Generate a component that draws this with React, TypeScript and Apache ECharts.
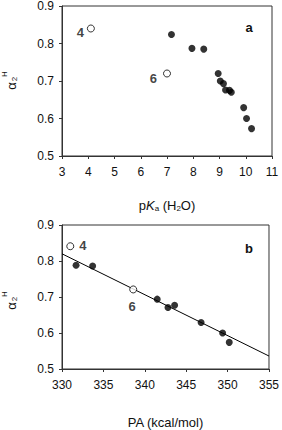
import React, { useEffect, useRef } from "react";
import * as echarts from "echarts";

// Panel a: pKa (H2O) vs alpha2H
const pkaOpen: [number, number, string][] = [
  [4.1, 0.84, "4"],
  [7.0, 0.72, "6"],
];
const pkaFilled: [number, number][] = [
  [7.17, 0.824],
  [7.95, 0.787],
  [8.4, 0.785],
  [8.95, 0.72],
  [9.03, 0.7],
  [9.15, 0.693],
  [9.23, 0.676],
  [9.38, 0.675],
  [9.45, 0.67],
  [9.92, 0.629],
  [10.03, 0.6],
  [10.22, 0.573],
];

// Panel b: PA (kcal/mol) vs alpha2H
const paOpen: [number, number, string][] = [
  [331.0, 0.841, "4"],
  [338.6, 0.721, "6"],
];
const paFilled: [number, number][] = [
  [331.7, 0.788],
  [333.7, 0.786],
  [341.5, 0.694],
  [342.8, 0.671],
  [343.6, 0.677],
  [346.8, 0.629],
  [349.4, 0.6],
  [350.2, 0.574],
];
const paFit: [number, number][] = [
  [330, 0.82],
  [355, 0.536],
];

const xRangeA = { min: 3, max: 11, interval: 1 };
const xRangeB = { min: 330, max: 355, interval: 5 };
const yRange = { min: 0.5, max: 0.9, interval: 0.1 };

const FONT = 'Arial, "Liberation Sans", sans-serif';
const TXT = "#111";
const AX = "#333";

export default function App() {
  const ref = useRef<HTMLDivElement>(null);

  useEffect(() => {
    if (!ref.current) return;
    const chart = echarts.init(ref.current, undefined, { renderer: "svg" });

    const axisCommon = {
      axisLine: { show: true, onZero: false, lineStyle: { color: AX, width: 1 } },
      axisTick: { show: true, length: 3, lineStyle: { color: AX } },
      splitLine: { show: false },
      axisLabel: { color: TXT, fontSize: 12, fontFamily: FONT },
    };

    const rich = {
      n: { fontSize: 13, color: TXT, fontFamily: FONT, lineHeight: 14 },
      i: { fontStyle: "italic" as const, fontSize: 13, color: TXT, fontFamily: FONT, lineHeight: 14 },
      s: {
        fontSize: 8,
        color: TXT,
        fontFamily: FONT,
        verticalAlign: "bottom" as const,
        lineHeight: 8,
        padding: [10, 0, 0, 0],
      },
    };

    const yTitle = (cy: number) => ({
      type: "group",
      x: 11,
      y: cy,
      rotation: Math.PI / 2,
      children: [
        {
          type: "text",
          x: 0,
          y: 0,
          style: { text: "α", fontSize: 13, fontFamily: FONT, fill: TXT, align: "center", verticalAlign: "middle" },
        },
        {
          type: "text",
          x: 7,
          y: 3,
          style: { text: "2", fontSize: 8, fontFamily: FONT, fill: TXT, align: "center", verticalAlign: "middle" },
        },
        {
          type: "text",
          x: 12,
          y: -7,
          style: { text: "H", fontSize: 8, fontFamily: FONT, fill: TXT, align: "center", verticalAlign: "middle" },
        },
      ],
    });

    const labelStyle = { show: true, color: TXT, fontSize: 13, fontWeight: "bold" as const, fontFamily: FONT };

    chart.setOption({
      animation: false,
      grid: [
        { left: 62, top: 5, width: 210, height: 151, show: true, borderColor: AX, borderWidth: 1 },
        { left: 62, top: 225, width: 210, height: 150, show: true, borderColor: AX, borderWidth: 1 },
      ],
      xAxis: [
        {
          ...axisCommon,
          type: "value",
          gridIndex: 0,
          ...xRangeA,
          axisLabel: { ...axisCommon.axisLabel, margin: 10 },
          name: "{n|p}{i|K}{s|a}{n| (H}{s|2}{n|O)}",
          nameLocation: "middle",
          nameGap: 42,
          nameTextStyle: { color: TXT, fontSize: 13, fontFamily: FONT, rich },
        },
        {
          ...axisCommon,
          type: "value",
          gridIndex: 1,
          ...xRangeB,
          axisLabel: { ...axisCommon.axisLabel, margin: 10 },
          name: "PA (kcal/mol)",
          nameLocation: "middle",
          nameGap: 47,
          nameTextStyle: { color: TXT, fontSize: 13, fontFamily: FONT },
        },
      ],
      yAxis: [
        {
          ...axisCommon,
          type: "value",
          gridIndex: 0,
          ...yRange,
          axisLabel: { ...axisCommon.axisLabel, margin: 8, formatter: (v: number) => v.toFixed(1) },
        },
        {
          ...axisCommon,
          type: "value",
          gridIndex: 1,
          ...yRange,
          axisLabel: { ...axisCommon.axisLabel, margin: 8, formatter: (v: number) => v.toFixed(1) },
        },
      ],
      graphic: [
        yTitle(86),
        yTitle(306),
        {
          type: "text",
          x: 249,
          y: 27,
          style: { text: "a", fontSize: 13, fontWeight: "bold", fontFamily: FONT, fill: TXT, align: "center", verticalAlign: "middle" },
        },
        {
          type: "text",
          x: 249,
          y: 248,
          style: { text: "b", fontSize: 13, fontWeight: "bold", fontFamily: FONT, fill: TXT, align: "center", verticalAlign: "middle" },
        },
      ],
      series: [
        {
          type: "scatter",
          xAxisIndex: 0,
          yAxisIndex: 0,
          symbol: "circle",
          symbolSize: 7,
          itemStyle: { color: "#000" },
          data: pkaFilled,
        },
        {
          type: "scatter",
          xAxisIndex: 0,
          yAxisIndex: 0,
          symbol: "circle",
          symbolSize: 7,
          itemStyle: { color: "#fff", borderColor: "#000", borderWidth: 1 },
          data: [
            {
              value: [pkaOpen[0][0], pkaOpen[0][1]],
              label: { ...labelStyle, formatter: pkaOpen[0][2], position: "left", distance: 3, offset: [0, 4] },
            },
            {
              value: [pkaOpen[1][0], pkaOpen[1][1]],
              label: { ...labelStyle, formatter: pkaOpen[1][2], position: "left", distance: 6, offset: [0, 5] },
            },
          ],
        },
        {
          type: "line",
          xAxisIndex: 1,
          yAxisIndex: 1,
          showSymbol: false,
          symbol: "none",
          lineStyle: { color: "#000", width: 1 },
          data: paFit,
          z: 1,
        },
        {
          type: "scatter",
          xAxisIndex: 1,
          yAxisIndex: 1,
          symbol: "circle",
          symbolSize: 7,
          itemStyle: { color: "#000" },
          data: paFilled,
          z: 3,
        },
        {
          type: "scatter",
          xAxisIndex: 1,
          yAxisIndex: 1,
          symbol: "circle",
          symbolSize: 7,
          itemStyle: { color: "#fff", borderColor: "#000", borderWidth: 1 },
          z: 3,
          data: [
            {
              value: [paOpen[0][0], paOpen[0][1]],
              label: { ...labelStyle, formatter: paOpen[0][2], position: "right", distance: 5, offset: [0, -1] },
            },
            {
              value: [paOpen[1][0], paOpen[1][1]],
              label: { ...labelStyle, formatter: paOpen[1][2], position: "bottom", distance: 7, offset: [-1, 0] },
            },
          ],
        },
      ],
    });

    return () => chart.dispose();
  }, []);

  return (
    <div
      ref={ref}
      style={{ position: "absolute", left: 0, top: 0, width: 282, height: 430, background: "#fff" }}
    />
  );
}
